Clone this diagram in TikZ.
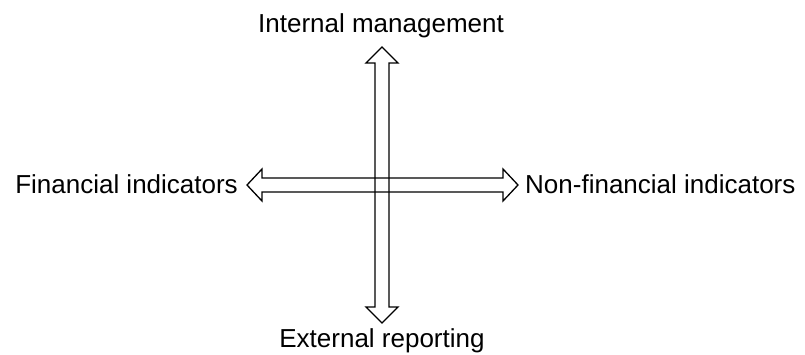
\documentclass[tikz,border=0pt]{standalone}
\usepackage{fontspec}
\setmainfont{Liberation Sans}
\begin{document}
\begin{tikzpicture}[x=1pt,y=-1pt,
  lbl/.style={inner sep=0pt, font=\fontsize{26}{30}\selectfont},
  arr/.style={draw=black, line width=1.3pt, line join=miter}]
\useasboundingbox (0,0) rectangle (805,354);
% vertical double arrow
\coordinate (vtop) at (382,47);
\coordinate (vbot) at (382,323);
\draw[arr] (vtop) -- (398,63) -- (389,63) -- (389,307) -- (398,307) -- (vbot)
  -- (366,307) -- (375,307) -- (375,63) -- (366,63) -- cycle;
% horizontal double arrow
\coordinate (hleft) at (247,185);
\coordinate (hright) at (518,185);
\draw[arr] (hleft) -- (262,169) -- (262,178) -- (503,178) -- (503,169) -- (hright)
  -- (503,201) -- (503,192) -- (262,192) -- (262,201) -- cycle;
% labels
\node[lbl, anchor=base] (im) at (381,32) {Internal management};
\node[lbl, anchor=base] (er) at (382,347.5) {External reporting};
\node[lbl, anchor=base east] (fi) at (238,193) {Financial indicators};
\node[lbl, anchor=base west] (nf) at (525,193) {Non-financial indicators};
\end{tikzpicture}
\end{document}
